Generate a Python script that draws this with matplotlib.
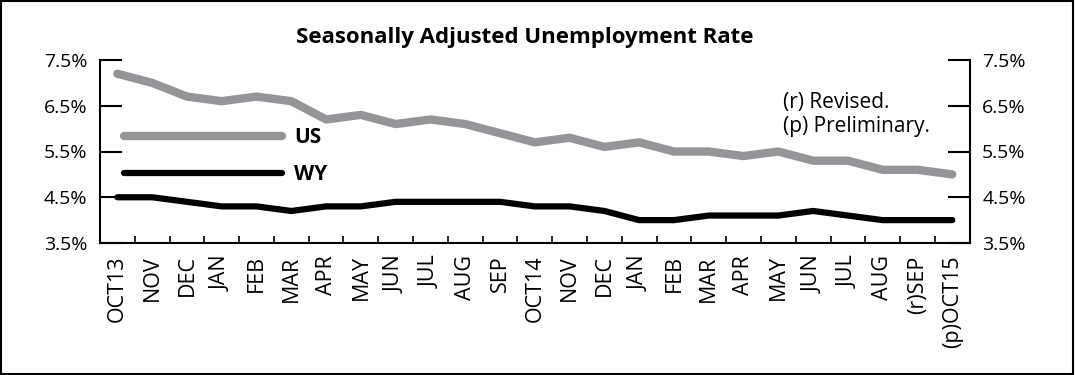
import numpy as np
import matplotlib
matplotlib.use("Agg")
import matplotlib.pyplot as plt
from matplotlib.patches import Rectangle

plt.rcParams['font.family'] = ['Open Sans', 'DejaVu Sans']

months = ['OCT13', 'NOV', 'DEC', 'JAN', 'FEB', 'MAR', 'APR', 'MAY', 'JUN', 'JUL',
          'AUG', 'SEP', 'OCT14', 'NOV', 'DEC', 'JAN', 'FEB', 'MAR', 'APR', 'MAY',
          'JUN', 'JUL', 'AUG', '(r)SEP', '(p)OCT15']
us = [7.2, 7.0, 6.7, 6.6, 6.7, 6.6, 6.2, 6.3, 6.1, 6.2, 6.1, 5.9, 5.7, 5.8, 5.6,
      5.7, 5.5, 5.5, 5.4, 5.5, 5.3, 5.3, 5.1, 5.1, 5.0]
wy = [4.5, 4.5, 4.4, 4.3, 4.3, 4.2, 4.3, 4.3, 4.4, 4.4, 4.4, 4.4, 4.3, 4.3, 4.2,
      4.0, 4.0, 4.1, 4.1, 4.1, 4.2, 4.1, 4.0, 4.0, 4.0]
yticks = [3.5, 4.5, 5.5, 6.5, 7.5]

fig = plt.figure(figsize=(10.75, 3.75), dpi=100)
ax = fig.add_axes([0.093, 0.352, 0.809, 0.488])

x = np.arange(len(months))
ax.plot(x, us, color='#939598', lw=6, label='US', solid_capstyle='round', solid_joinstyle='round')
ax.plot(x, wy, color='black', lw=4.5, label='WY', solid_capstyle='round', solid_joinstyle='round')

ax.set_xlim(-0.5, len(months) - 0.5)
ax.set_ylim(3.5, 7.5)
ax.set_yticks(yticks)
ax.set_yticklabels(['%.1f%%' % v for v in yticks])
ax.set_xticks(x)
ax.set_xticklabels(months, rotation=90)
ax.set_xticks(np.arange(len(months) + 1) - 0.5, minor=True)

ax.tick_params(axis='y', which='both', direction='in', length=16, width=1.5,
               left=True, right=True, labelleft=True, labelright=True,
               labelsize=14, pad=9)
ax.tick_params(axis='x', which='major', length=0, labelsize=15.5, pad=9)
ax.tick_params(axis='x', which='minor', direction='in', length=5, width=1.2)
ax.spines['top'].set_visible(False)
for s in ['left', 'right', 'bottom']:
    ax.spines[s].set_linewidth(1.5)

ax.set_title('Seasonally Adjusted Unemployment Rate', fontsize=16, fontweight='bold',
             pad=12, x=0.488)

leg = ax.legend(loc='center left', bbox_to_anchor=(0.0276, 0.475), frameon=False,
                handlelength=7.6, labelspacing=0.75, handletextpad=0.55,
                borderpad=0, borderaxespad=0,
                prop={'weight': 'bold', 'size': 15})

ax.text(0.785, 0.70, '(r) Revised.\n(p) Preliminary.', transform=ax.transAxes,
        fontsize=15, va='center', ha='left', linespacing=1.2)

fig.patches.append(Rectangle((0.001, 0.002), 0.997, 0.995, transform=fig.transFigure,
                             fill=False, edgecolor='black', lw=1.5))

fig.savefig('out.png', dpi=100)
